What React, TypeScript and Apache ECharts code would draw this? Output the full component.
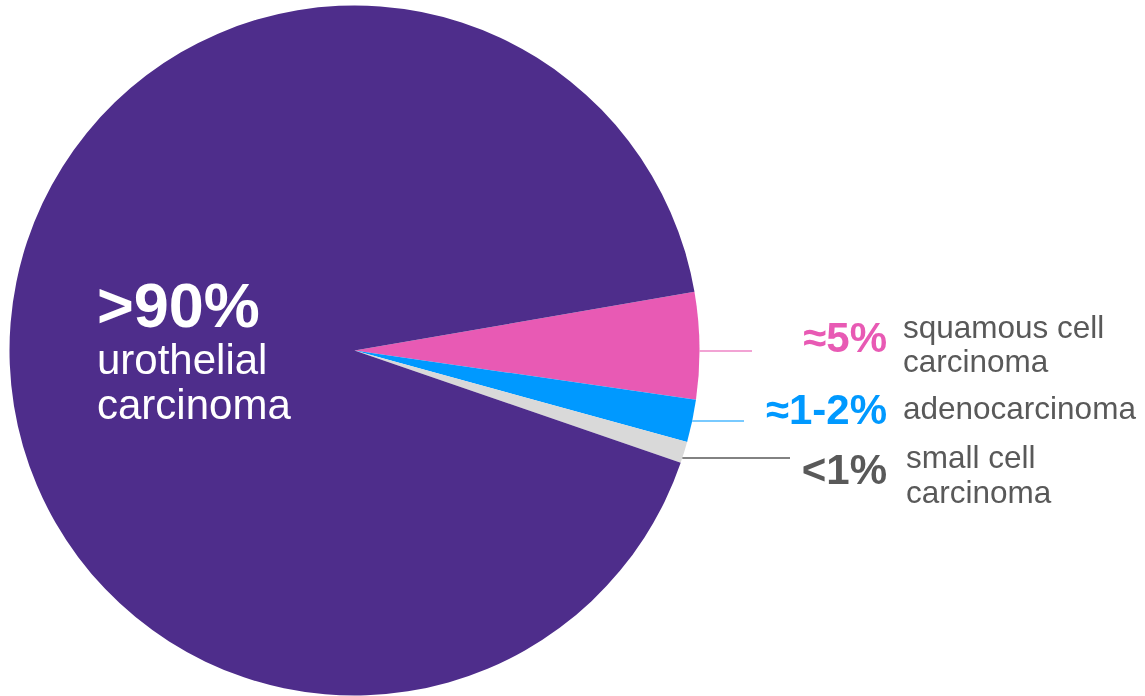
import React, { useEffect, useRef } from "react";
import * as echarts from "echarts";

const categories = ["squamous cell carcinoma", "adenocarcinoma", "small cell carcinoma", "urothelial carcinoma"];
const values = [5, 2, 1, 92];
const colors = ["#E85AB4", "#0099FF", "#D9D9D9", "#4E2D8B"];
const pctLabels = ["≈5%", "≈1-2%", "<1%", ">90%"];
const nameLines = [["squamous cell", "carcinoma"], ["adenocarcinoma"], ["small cell", "carcinoma"], ["urothelial", "carcinoma"]];
const pctColors = ["#E85AB4", "#0099FF", "#595959", "#FFFFFF"];
const lineColors = ["#EE84C6", "#4DB8FF", "#595959"];

const FONT = "'Liberation Sans', Arial, sans-serif";

export default function App() {
  const ref = useRef<HTMLDivElement>(null);
  useEffect(() => {
    document.body.style.margin = "0";
    const chart = echarts.init(ref.current!, null, { renderer: "svg" });
    const cx = 354.5, cy = 350.5, r = 345;

    const lineY = [351, 421, 458];
    const lineEnd = [752, 744, 790];
    const pctMid = [337, 409, 469];
    const nameMid = [[327, 361], [408], [457, 492]];
    const nameX = [903, 903, 906];

    const graphics: any[] = [];
    for (let i = 0; i < 3; i++) {
      const y = lineY[i];
      const xStart = cx + Math.sqrt(r * r - (y - cy) * (y - cy));
      graphics.push({
        type: "line",
        z: 100,
        shape: { x1: xStart, y1: y, x2: lineEnd[i], y2: y },
        style: { stroke: lineColors[i], lineWidth: 1.5 },
        silent: true,
      });
      graphics.push({
        type: "text",
        z: 100,
        x: 887, y: pctMid[i],
        style: { text: pctLabels[i], font: `bold 42px ${FONT}`, lineHeight: 36, fill: pctColors[i], align: "right", verticalAlign: "middle" },
      });
      nameLines[i].forEach((t, j) => {
        graphics.push({
          type: "text",
          z: 100,
          x: nameX[i], y: nameMid[i][j],
          style: { text: t, font: `31.5px ${FONT}`, lineHeight: 32, fill: "#595959", align: "left", verticalAlign: "middle" },
        });
      });
    }
    graphics.push({
      type: "text", z: 100, x: 97, y: 305,
      style: { text: pctLabels[3], font: `bold 63px ${FONT}`, lineHeight: 50, fill: "#FFFFFF", align: "left", verticalAlign: "middle" },
    });
    nameLines[3].forEach((t, j) => {
      graphics.push({
        type: "text", z: 100, x: 97, y: [359, 404][j],
        style: { text: t, font: `42px ${FONT}`, lineHeight: 42, fill: "#FFFFFF", align: "left", verticalAlign: "middle" },
      });
    });

    chart.setOption({
      animation: false,
      series: [
        {
          type: "pie",
          z: 1,
          center: [cx, cy],
          radius: r,
          startAngle: 9.8,
          clockwise: true,
          label: { show: false },
          labelLine: { show: false },
          itemStyle: { borderWidth: 0 },
          emphasis: { disabled: true },
          data: categories.map((c, i) => ({ name: c, value: values[i], itemStyle: { color: colors[i] } })),
        },
      ],
      graphic: { elements: graphics },
    });
    return () => chart.dispose();
  }, []);
  return <div ref={ref} style={{ position: "fixed", left: 0, top: 0, width: 1145, height: 696 }} />;
}
